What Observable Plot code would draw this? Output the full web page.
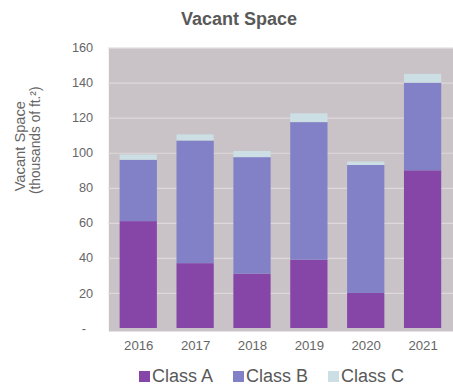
<!DOCTYPE html>
<html>
<head>
<meta charset="utf-8">
<script src="https://cdn.jsdelivr.net/npm/d3@7"></script>
<script src="https://cdn.jsdelivr.net/npm/@observablehq/plot@0.6"></script>
<style>
  html, body { margin: 0; padding: 0; background: #fff; overflow: hidden; width: 453px; height: 385px; }
  body { font-family: "Liberation Sans", Arial, sans-serif; position: relative; }
  #title { position: absolute; left: 0; width: 478px; top: 10px; height: 18px; line-height: 18px;
           text-align: center; font-size: 18px; font-weight: bold; color: #595959; }
  #chart { position: absolute; left: 0; top: 28px; }
  #legend { position: absolute; left: 139px; top: 367px; display: flex; gap: 20px;
            font-size: 18px; line-height: 18px; color: #595959; white-space: nowrap; }
  #legend .sw { display: inline-block; width: 11px; height: 11px; margin-right: 2px; }
</style>
</head>
<body>
<div id="title">Vacant Space</div>
<div id="chart"></div>
<div id="legend"></div>
<script>
// Vacant space by building class, thousands of square feet
const years = ["2016", "2017", "2018", "2019", "2020", "2021"];
const classA = [61, 37, 31, 39, 20, 90];
const classB = [35, 70, 66.5, 78.5, 73, 50];
const classC = [3, 3.5, 3.5, 5, 2, 5];
const classes = ["Class A", "Class B", "Class C"];
const classColors = ["#8546a8", "#8281c7", "#cbdfe5"];
const yTicks = [0, 20, 40, 60, 80, 100, 120, 140, 160];

const series = [classA, classB, classC];
const rows = years.flatMap((year, i) =>
  classes.map((cls, k) => ({year, cls, value: series[k][i]}))
);

const plot = Plot.plot({
  width: 462,
  height: 334,
  marginLeft: 110.5,
  marginRight: 0,
  marginTop: 20,
  marginBottom: 25,
  style: {fontFamily: "'Liberation Sans', Arial, sans-serif", color: "#666", background: "transparent", overflow: "visible"},
  x: {domain: years, paddingInner: 0.35, paddingOuter: 0.18, label: null, axis: null},
  y: {domain: [-1.7, 160], label: null, axis: null},
  color: {domain: classes, range: classColors},
  marks: [
    Plot.frame({fill: "#c9c3c7", stroke: null}),
    Plot.ruleY(yTicks.filter(d => d > 0), {stroke: "#ddd8da", strokeWidth: 1.2}),
    Plot.barY(rows, {x: "year", y: "value", fill: "cls", order: classes}),
    Plot.axisY(yTicks, {
      tickSize: 0, tickPadding: 16, fontSize: 13, fill: "#666",
      tickFormat: d => d === 0 ? "-\u00a0\u00a0" : String(d), label: null
    }),
    Plot.axisX({tickSize: 0, tickPadding: 9, fontSize: 13.5, fill: "#666", label: null}),
    Plot.text(["Vacant Space"], {
      frameAnchor: "left", text: d => d, rotate: -90, dx: -90.5, dy: -44.5,
      fontSize: 15, fill: "#666", textAnchor: "middle"
    }),
    Plot.text(["(thousands of ft.\u00b2)"], {
      frameAnchor: "left", text: d => d, rotate: -90, dx: -74.5, dy: -50.5,
      fontSize: 14, fill: "#666", textAnchor: "middle"
    })
  ]
});
document.getElementById("chart").appendChild(plot);

// Legend: colour swatch followed by the class name
const legend = d3.select("#legend");
classes.forEach((cls, k) => {
  const item = legend.append("div");
  item.append("span").attr("class", "sw").style("background", classColors[k]);
  item.append("span").text(cls);
});
</script>
</body>
</html>
